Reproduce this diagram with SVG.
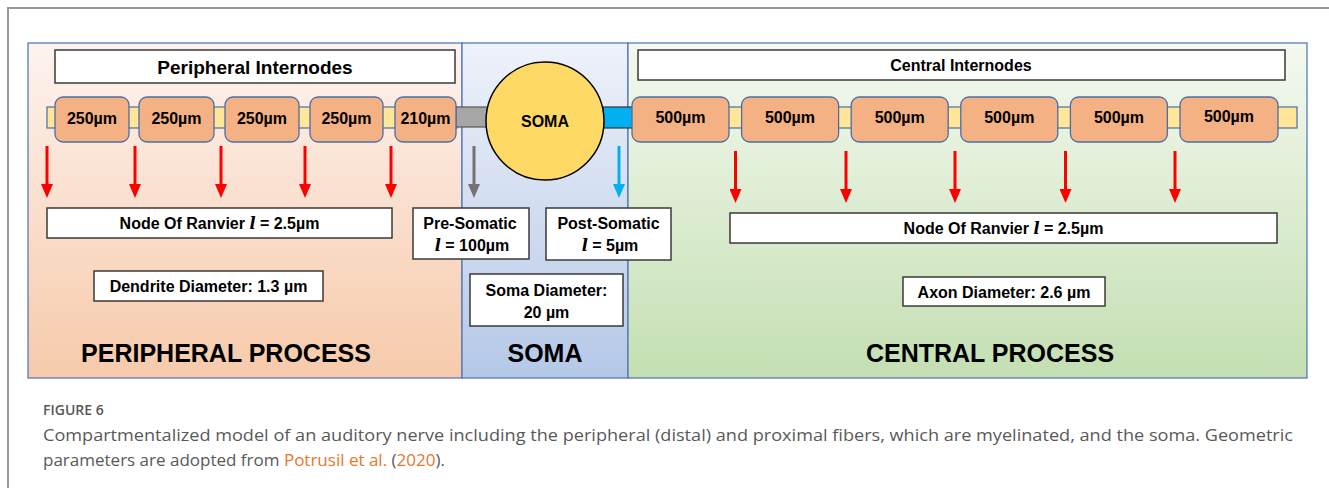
<svg xmlns="http://www.w3.org/2000/svg" width="1329" height="488" viewBox="0 0 1329 488">
<defs>
<linearGradient id="gPer" x1="0" y1="0" x2="0" y2="1">
<stop offset="0" stop-color="#fdf3ee"/>
<stop offset="1" stop-color="#f7caab"/>
</linearGradient>
<linearGradient id="gSoma" x1="0" y1="0" x2="0" y2="1">
<stop offset="0" stop-color="#eef2fa"/>
<stop offset="1" stop-color="#b5c8e8"/>
</linearGradient>
<linearGradient id="gCen" x1="0" y1="0" x2="0" y2="1">
<stop offset="0" stop-color="#f4f9f0"/>
<stop offset="1" stop-color="#c4dfb2"/>
</linearGradient>
<marker id="hRed" markerUnits="userSpaceOnUse" markerWidth="14" markerHeight="12" refX="6" refY="6" orient="auto">
<path d="M0,0 L14,6 L0,12 z" fill="#ff0000"/>
</marker>
<marker id="hGray" markerUnits="userSpaceOnUse" markerWidth="14" markerHeight="12" refX="6" refY="6" orient="auto">
<path d="M0,0 L14,6 L0,12 z" fill="#767171"/>
</marker>
<marker id="hCyan" markerUnits="userSpaceOnUse" markerWidth="14" markerHeight="12" refX="6" refY="6" orient="auto">
<path d="M0,0 L14,6 L0,12 z" fill="#00b0f0"/>
</marker>
</defs>
<style>
.region{stroke:#4a72b8;stroke-width:1.2}
.tbox{fill:#ffffff;stroke:#3a3a3a;stroke-width:1.5}
.inode{fill:#f4b183;stroke:#4a6fa5;stroke-width:1.3}
.bar{fill:#ffe699;stroke:#4a6fa5;stroke-width:1.2}
.t{font-family:"Liberation Sans",Arial,sans-serif;font-weight:bold;fill:#000;text-anchor:middle}
.t16{font-size:16px}
.big{font-size:25px}
.ell{font-family:"DejaVu Serif",serif;font-style:italic;font-weight:bold}
.arR{stroke:#ff0000;stroke-width:3;fill:none;marker-end:url(#hRed)}
.arG{stroke:#767171;stroke-width:3;fill:none;marker-end:url(#hGray)}
.arC{stroke:#00b0f0;stroke-width:3;fill:none;marker-end:url(#hCyan)}
.cap{font-family:"Open Sans","Noto Sans",sans-serif;fill:#595959}
</style>
<rect width="1329" height="488" fill="#ffffff"/>
<!-- outer frame -->
<path d="M8,488 L8,8 L1329,8" fill="none" stroke="#999999" stroke-width="2"/>

<!-- regions -->
<g id="regions">
<rect id="region-peripheral" class="region" x="28" y="43" width="434" height="335" fill="url(#gPer)"/>
<rect id="region-soma" class="region" x="462" y="43" width="166" height="335" fill="url(#gSoma)"/>
<rect id="region-central" class="region" x="628" y="43" width="679" height="335" fill="url(#gCen)"/>
</g>

<!-- axon bars -->
<g id="bars">
<rect id="bar-peripheral" class="bar" x="47" y="107" width="410" height="21"/>
<rect id="bar-central" class="bar" x="632" y="107" width="665" height="21"/>
<rect id="presomatic-segment" x="456" y="107" width="32" height="20" fill="#a6a6a6" stroke="#555555" stroke-width="1.2"/>
<rect id="postsomatic-segment" x="603" y="107" width="30" height="21" fill="#00b0f0" stroke="#333333" stroke-width="1.2"/>
</g>

<g id="peripheral-internodes-label">
<rect class="tbox" x="55" y="50" width="400" height="33"/>
<text class="t" x="255" y="74" font-size="19">Peripheral Internodes</text>
</g>
<g id="central-internodes-label">
<rect class="tbox" x="638" y="50" width="647" height="30"/>
<text class="t t16" x="961" y="71">Central Internodes</text>
</g>

<!-- peripheral internodes -->
<g id="p1"><rect class="inode" x="55" y="97" width="74" height="45" rx="8"/><text class="t t16" x="92" y="124">250µm</text></g>
<g id="p2"><rect class="inode" x="139" y="97" width="75" height="45" rx="8"/><text class="t t16" x="176.5" y="124">250µm</text></g>
<g id="p3"><rect class="inode" x="225" y="97" width="74" height="45" rx="8"/><text class="t t16" x="262" y="124">250µm</text></g>
<g id="p4"><rect class="inode" x="310" y="97" width="73" height="45" rx="8"/><text class="t t16" x="346.5" y="124">250µm</text></g>
<g id="p5"><rect class="inode" x="395" y="97" width="61" height="45" rx="8"/><text class="t t16" x="425.5" y="124">210µm</text></g>

<!-- soma -->
<g id="soma">
<circle cx="545" cy="121" r="59" fill="#ffd966" stroke="#000000" stroke-width="1.5"/>
<text class="t t16" x="545" y="127">SOMA</text>
</g>

<!-- central internodes -->
<g id="c1"><rect class="inode" x="632" y="97" width="97" height="45" rx="8"/><text class="t t16" x="680.5" y="123">500µm</text></g>
<g id="c2"><rect class="inode" x="741.6" y="97" width="97" height="45" rx="8"/><text class="t t16" x="790" y="123">500µm</text></g>
<g id="c3"><rect class="inode" x="851.2" y="97" width="97" height="45" rx="8"/><text class="t t16" x="899.7" y="123">500µm</text></g>
<g id="c4"><rect class="inode" x="960.8" y="97" width="97" height="45" rx="8"/><text class="t t16" x="1009.3" y="123">500µm</text></g>
<g id="c5"><rect class="inode" x="1070.4" y="97" width="97" height="45" rx="8"/><text class="t t16" x="1119" y="123">500µm</text></g>
<g id="c6"><rect class="inode" x="1180" y="97" width="98" height="45" rx="8"/><text class="t t16" x="1229" y="122">500µm</text></g>

<!-- connectors -->
<g id="connectors">
<line class="arR" x1="47" y1="146" x2="47" y2="190"/>
<line class="arR" x1="135" y1="146" x2="135" y2="190"/>
<line class="arR" x1="221" y1="146" x2="221" y2="190"/>
<line class="arR" x1="305" y1="146" x2="305" y2="190"/>
<line class="arR" x1="391" y1="146" x2="391" y2="190"/>
<line class="arG" x1="474" y1="146" x2="474" y2="190"/>
<line class="arC" x1="619" y1="146" x2="619" y2="190"/>
<line class="arR" x1="735.5" y1="151" x2="735.5" y2="195"/>
<line class="arR" x1="846" y1="151" x2="846" y2="195"/>
<line class="arR" x1="955" y1="151" x2="955" y2="195"/>
<line class="arR" x1="1065.5" y1="151" x2="1065.5" y2="195"/>
<line class="arR" x1="1175" y1="151" x2="1175" y2="195"/>
</g>

<!-- labels -->
<g id="node-ranvier-peripheral">
<rect class="tbox" x="47" y="208" width="345" height="30"/>
<text class="t t16" x="219.5" y="229">Node Of Ranvier <tspan class="ell">l</tspan> = 2.5µm</text>
</g>
<g id="dendrite-diameter">
<rect class="tbox" x="94" y="271" width="229" height="30"/>
<text class="t t16" x="208.5" y="292">Dendrite Diameter: 1.3 µm</text>
</g>
<g id="pre-somatic">
<rect class="tbox" x="413" y="208" width="116" height="51"/>
<text class="t t16" x="470" y="229">Pre-Somatic</text>
<text class="t t16" x="472" y="251"><tspan class="ell">l</tspan> = 100µm</text>
</g>
<g id="post-somatic">
<rect class="tbox" x="546" y="208" width="125" height="52"/>
<text class="t t16" x="608.5" y="229">Post-Somatic</text>
<text class="t t16" x="610" y="251"><tspan class="ell">l</tspan> = 5µm</text>
</g>
<g id="soma-diameter">
<rect class="tbox" x="470" y="274" width="153" height="52"/>
<text class="t t16" x="546.5" y="296">Soma Diameter:</text>
<text class="t t16" x="546.5" y="318">20 µm</text>
</g>
<g id="node-ranvier-central">
<rect class="tbox" x="730" y="213" width="547" height="30"/>
<text class="t t16" x="1003.5" y="234">Node Of Ranvier <tspan class="ell">l</tspan> = 2.5µm</text>
</g>
<g id="axon-diameter">
<rect class="tbox" x="903" y="277" width="202" height="29"/>
<text class="t t16" x="1004" y="298">Axon Diameter: 2.6 µm</text>
</g>

<g id="region-titles">
<text class="t big" x="226" y="362">PERIPHERAL PROCESS</text>
<text class="t big" x="545" y="362">SOMA</text>
<text class="t big" x="990" y="362">CENTRAL PROCESS</text>
</g>

<!-- caption -->
<g id="caption">
<text class="cap" x="43" y="415" font-size="14" font-weight="600" fill="#6d6d6d">FIGURE 6</text>
<text class="cap" x="43" y="441" font-size="17" textLength="1250" lengthAdjust="spacingAndGlyphs">Compartmentalized model of an auditory nerve including the peripheral (distal) and proximal fibers, which are myelinated, and the soma. Geometric</text>
<text class="cap" x="43" y="466" font-size="17">parameters are adopted from <tspan fill="#e8762b">Potrusil et al.</tspan> (<tspan fill="#e8762b">2020</tspan>).</text>
</g>
</svg>
